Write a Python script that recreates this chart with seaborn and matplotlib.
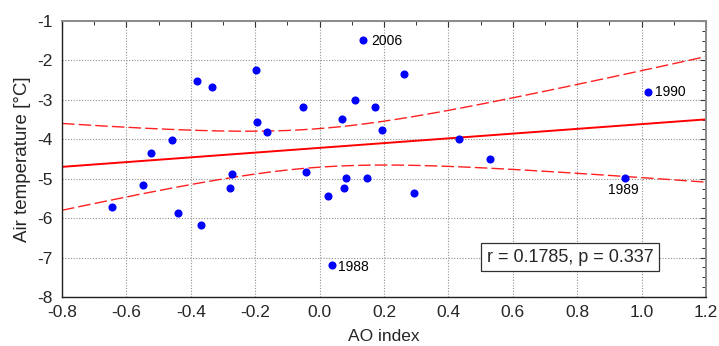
import numpy as np
import pandas as pd
import matplotlib
matplotlib.use("Agg")
import matplotlib.pyplot as plt
import seaborn as sns
from matplotlib.ticker import MultipleLocator

# Data
ao_index = [-0.646, -0.548, -0.524, -0.439, -0.369, -0.278, -0.273, -0.042, 0.027, 0.076,
            0.082, 0.148, 0.037, 0.294, 0.529, 0.948, 0.135, -0.380, -0.333, -0.197,
            -0.194, -0.164, -0.051, 0.069, 0.109, 0.173, 0.194, -0.458, 0.263, 1.021, 0.434]
air_temp = [-5.73, -5.15, -4.34, -5.87, -6.17, -5.24, -4.88, -4.82, -5.44, -5.24,
            -4.98, -4.97, -7.18, -5.37, -4.51, -4.97, -1.48, -2.52, -2.68, -2.24,
            -3.57, -3.82, -3.19, -3.48, -3.00, -3.19, -3.77, -4.02, -2.34, -2.80, -4.00]
label_years = ["", "", "", "", "", "", "", "", "", "",
               "", "", "1988", "", "", "1989", "2006", "", "", "",
               "", "", "", "", "", "", "", "", "", "1990", ""]
stats_text = "r = 0.1785, p = 0.337"
x_ticks = [-0.8, -0.6, -0.4, -0.2, 0.0, 0.2, 0.4, 0.6, 0.8, 1.0, 1.2]
y_ticks = [-8, -7, -6, -5, -4, -3, -2, -1]

df = pd.DataFrame({"AO": ao_index, "T": air_temp, "label": label_years})

sns.set_style("white")
plt.rcParams["font.family"] = ["Liberation Sans", "DejaVu Sans"]

fig = plt.figure(figsize=(7.19, 3.46), dpi=100)
ax = fig.add_axes([62 / 719, 1 - 297 / 346, (706 - 62) / 719, (297 - 21) / 346])

# regression and 95% confidence band (analytic)
x = np.asarray(ao_index)
y = np.asarray(air_temp)
n = len(x)
b, a = np.polyfit(x, y, 1)
resid = y - (a + b * x)
s = np.sqrt(np.sum(resid ** 2) / (n - 2))
xm = x.mean()
sxx = np.sum((x - xm) ** 2)
xs = np.linspace(-0.8, 1.2, 200)
yfit = a + b * xs
tcrit = 2.045
half = tcrit * s * np.sqrt(1 / n + (xs - xm) ** 2 / sxx)

ax.plot(xs, yfit, color="#ff0000", lw=1.4, zorder=2)
ax.plot(xs, yfit + half, color="#ff2020", lw=1.0, dashes=(9, 3), zorder=2)
ax.plot(xs, yfit - half, color="#ff2020", lw=1.0, dashes=(9, 3), zorder=2)

sns.scatterplot(data=df, x="AO", y="T", ax=ax, color="#0000ff", s=34,
                edgecolor="#0000ff", linewidth=0, zorder=3, legend=False)

offsets = {"1988": (5, -2, "left", "center"), "1989": (-1, -9, "center", "center"),
           "2006": (6, -1, "left", "center"), "1990": (5, 0, "left", "center")}
for xi, yi, lab in zip(ao_index, air_temp, label_years):
    if lab:
        dx, dy, ha, va = offsets[lab]
        ax.annotate(lab, (xi, yi), xytext=(dx, dy), textcoords="offset points",
                    ha=ha, va=va, fontsize=10, color="black")

ax.text(0.778, -6.99, stats_text, ha="center", va="center", fontsize=13,
        bbox=dict(boxstyle="square,pad=0.3", fc="white", ec="#303030", lw=0.9))

ax.set_xlim(-0.8, 1.2)
ax.set_ylim(-8, -1)
ax.set_xticks(x_ticks)
ax.set_xticklabels([f"{v:.1f}" for v in x_ticks])
ax.set_yticks(y_ticks)
ax.set_yticklabels([str(v) for v in y_ticks])
ax.xaxis.set_minor_locator(MultipleLocator(0.1))
ax.yaxis.set_minor_locator(MultipleLocator(0.25))
ax.tick_params(which="both", direction="in", top=True, right=True, labelsize=12.5,
               color="#333333")
ax.tick_params(axis="x", which="major", pad=6)
ax.tick_params(axis="y", which="major", pad=7)
ax.tick_params(which="major", length=4, width=0.8)
ax.tick_params(which="minor", length=3, width=0.7)
ax.grid(True, which="major", color="#909090", linestyle=(0, (1, 1.5)), lw=0.8)
ax.set_axisbelow(True)

for side in ["left", "bottom"]:
    ax.spines[side].set_color("#202020")
    ax.spines[side].set_linewidth(1.0)
for side in ["top", "right"]:
    ax.spines[side].set_color("#8a8a8a")
    ax.spines[side].set_linewidth(1.4)

ax.set_xlabel("AO index", fontsize=12.5, labelpad=6)
ax.set_ylabel("Air temperature [°C]", fontsize=13.5, labelpad=4)

fig.savefig("out.png", dpi=100)
